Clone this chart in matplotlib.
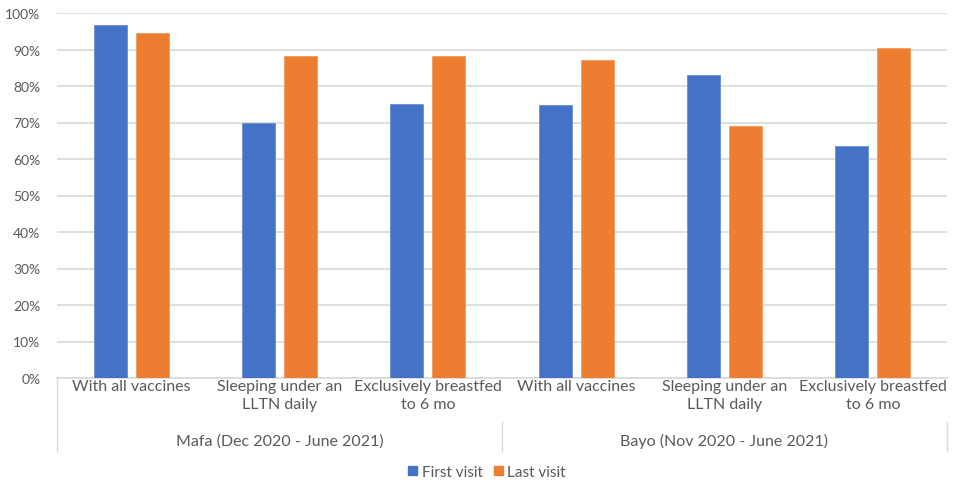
import matplotlib
matplotlib.use("Agg")
import matplotlib.pyplot as plt
import numpy as np
from matplotlib.patches import Patch

plt.rcParams['font.family'] = ['Lato', 'DejaVu Sans']

categories = ["With all vaccines", "Sleeping under an\nLLTN daily", "Exclusively breastfed\nto 6 mo",
              "With all vaccines", "Sleeping under an\nLLTN daily", "Exclusively breastfed\nto 6 mo"]
groups = ["Mafa (Dec 2020 - June 2021)", "Bayo (Nov 2020 - June 2021)"]
first_visit = [96.7, 70.0, 75.1, 74.8, 83.1, 63.5]
last_visit = [94.4, 88.1, 88.1, 87.2, 69.1, 90.4]
yticks = list(range(0, 101, 10))

blue = "#4472C4"
orange = "#ED7D31"
text_col = "#595959"

fig = plt.figure(figsize=(9.61, 4.81), dpi=100)
ax = fig.add_axes([57/961, 1-379/481, (947-57)/961, (379-14)/481])

x = np.arange(len(categories))
w = 0.223
off = 0.142
ax.bar(x - off, first_visit, w, color=blue, edgecolor="#6a8fd6", linewidth=0.6, zorder=3)
ax.bar(x + off, last_visit, w, color=orange, edgecolor="#f59a5e", linewidth=0.6, zorder=3)

ax.set_xlim(-0.5, len(categories) - 0.5)
ax.set_ylim(0, 100)
ax.set_yticks(yticks)
ax.set_yticklabels([f"{v}%" for v in yticks], color=text_col, fontsize=10)
ax.yaxis.grid(True, color="#d9d9d9", linewidth=1.2, zorder=0)
ax.tick_params(axis='y', length=0, pad=12)
for s in ["left", "right", "top"]:
    ax.spines[s].set_visible(False)
ax.spines["bottom"].set_color("#d9d9d9")
ax.spines["bottom"].set_linewidth(1.2)

ax.set_xticks(x)
ax.set_xticklabels(categories, color=text_col, fontsize=11.5, linespacing=1.3)
ax.tick_params(axis='x', length=0, pad=1)

trans = ax.get_xaxis_transform()
for gi, g in enumerate(groups):
    ax.text(gi * 3 + 1, -0.172, g, transform=trans, ha='center', va='center',
            color=text_col, fontsize=11.5)
ax.plot([-0.5, -0.5], [0, -0.2], transform=trans, color="#d9d9d9", linewidth=1.0, clip_on=False)
for xb in [2.5, 5.5]:
    ax.plot([xb, xb], [-0.121, -0.2], transform=trans, color="#d9d9d9", linewidth=1.0, clip_on=False)

handles = [Patch(color=blue, label="First visit"), Patch(color=orange, label="Last visit")]
fig.legend(handles=handles, loc='center', bbox_to_anchor=(487/961, 1 - 473/481), ncol=2, frameon=False,
           fontsize=11, handlelength=0.6, handleheight=0.6, handletextpad=0.3, columnspacing=0.7,
           labelcolor=text_col)

fig.savefig("out.png", dpi=100)
